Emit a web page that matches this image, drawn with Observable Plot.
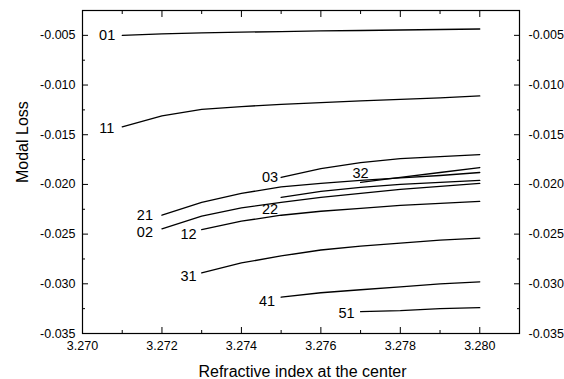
<!DOCTYPE html>
<html><head><meta charset="utf-8">
<script src="https://cdn.jsdelivr.net/npm/d3@7"></script>
<script src="https://cdn.jsdelivr.net/npm/@observablehq/plot@0.6"></script>
<style>body{margin:0;background:#fff}</style>
</head><body><div id="chart"></div>
<script>
// x grid (refractive index at the center); every series ends at 3.280
const xGrid = [3.271, 3.272, 3.273, 3.274, 3.275, 3.276, 3.277, 3.278, 3.279, 3.280];

// modal loss series
const s01 = [-0.0050, -0.00485, -0.00475, -0.00468, -0.00462, -0.00456, -0.00451, -0.00446, -0.00441, -0.00436];
const s11 = [-0.0142, -0.0131, -0.01244, -0.01217, -0.01194, -0.01177, -0.0116, -0.01144, -0.0113, -0.0111];
const s21 = [-0.0231, -0.0218, -0.0209, -0.02025, -0.0199, -0.0196, -0.01935, -0.0191, -0.0188];
const s02 = [-0.02447, -0.0232, -0.02236, -0.0218, -0.0213, -0.0209, -0.0205, -0.0202, -0.0199];
const s12 = [-0.02454, -0.0237, -0.0231, -0.0227, -0.0224, -0.0221, -0.0219, -0.0217];
const s31 = [-0.0289, -0.0279, -0.0272, -0.0266, -0.0262, -0.0259, -0.0256, -0.0254];
const s03 = [-0.0193, -0.0184, -0.0178, -0.0174, -0.0172, -0.0170];
const s22 = [-0.0213, -0.0207, -0.0203, -0.0200, -0.0198, -0.0196];
const s41 = [-0.03135, -0.0309, -0.0306, -0.0303, -0.0300, -0.0298];
const s32 = [-0.0198, -0.0193, -0.0188, -0.0183];
const s51 = [-0.0328, -0.0327, -0.0325, -0.0324];

const modes = ["01", "11", "21", "02", "12", "31", "03", "22", "41", "32", "51"];
const seriesValues = [s01, s11, s21, s02, s12, s31, s03, s22, s41, s32, s51];

// tick values
const xTicks = [3.270, 3.272, 3.274, 3.276, 3.278, 3.280];
const xMinorTicks = [3.271, 3.273, 3.275, 3.277, 3.279];
const yTicks = [-0.035, -0.030, -0.025, -0.020, -0.015, -0.010, -0.005];
const yMinorTicks = [-0.0325, -0.0275, -0.0225, -0.0175, -0.0125, -0.0075];

const xTitle = "Refractive index at the center";
const yTitle = "Modal Loss";

// build table
const rows = [];
modes.forEach((m, i) => {
  const v = seriesValues[i];
  const xs = xGrid.slice(xGrid.length - v.length);
  v.forEach((y, j) => rows.push({mode: m, x: xs[j], y}));
});
const firstPoints = modes.map((m, i) => {
  const v = seriesValues[i];
  return {mode: m, x: xGrid[xGrid.length - v.length], y: v[0]};
});

// label placement (layout, in px relative to each line's first point)
const labelLayout = {
  "01": {dx: -7, dy: 0, anchor: "end"},
  "11": {dx: -8, dy: 1.5, anchor: "end"},
  "21": {dx: -9, dy: 0, anchor: "end"},
  "02": {dx: -9, dy: 4, anchor: "end"},
  "12": {dx: -5, dy: 5, anchor: "end"},
  "31": {dx: -5, dy: 3, anchor: "end"},
  "03": {dx: -3, dy: 0, anchor: "end"},
  "22": {dx: -3, dy: 12, anchor: "end"},
  "41": {dx: -6, dy: 4, anchor: "end"},
  "32": {dx: 0, dy: -9, anchor: "middle"},
  "51": {dx: -6, dy: 1.5, anchor: "end"}
};

const fmt = d => d.toFixed(3);
const blank = () => "";
const tickFont = 12.5;

const labelMarks = firstPoints.map(p => {
  const L = labelLayout[p.mode];
  return Plot.text([p], {x: "x", y: "y", text: "mode", dx: L.dx, dy: L.dy,
    textAnchor: L.anchor, fontSize: 14.5, fill: "black"});
});

const chart = Plot.plot({
  width: 564,
  height: 379,
  marginLeft: 82,
  marginRight: 45,
  marginTop: 10,
  marginBottom: 46,
  style: {fontFamily: "'Liberation Sans', Arial, sans-serif", color: "black", background: "white"},
  x: {domain: [3.270, 3.281]},
  y: {domain: [-0.035, -0.0025]},
  marks: [
    // inward major ticks
    Plot.axisX(xTicks, {anchor: "bottom", tickSize: -6, tickFormat: blank, label: null}),
    Plot.axisX(xTicks, {anchor: "top", tickSize: -6, tickFormat: blank, label: null}),
    Plot.axisY(yTicks, {anchor: "left", tickSize: -6, tickFormat: blank, label: null}),
    Plot.axisY(yTicks, {anchor: "right", tickSize: -6, tickFormat: blank, label: null}),
    // inward minor ticks
    Plot.axisX(xMinorTicks, {anchor: "bottom", tickSize: -3, tickFormat: blank, label: null}),
    Plot.axisX(xMinorTicks, {anchor: "top", tickSize: -3, tickFormat: blank, label: null}),
    Plot.axisY(yMinorTicks, {anchor: "left", tickSize: -3, tickFormat: blank, label: null}),
    Plot.axisY(yMinorTicks, {anchor: "right", tickSize: -3, tickFormat: blank, label: null}),
    // tick labels
    Plot.axisX(xTicks, {anchor: "bottom", tickSize: 0, tickPadding: 8, tickFormat: fmt, label: null, fontSize: tickFont}),
    Plot.axisY(yTicks, {anchor: "left", tickSize: 0, tickPadding: 7, tickFormat: fmt, label: null, fontSize: tickFont}),
    Plot.axisY(yTicks, {anchor: "right", tickSize: 0, tickPadding: 9, tickFormat: fmt, label: null, fontSize: tickFont}),
    Plot.frame({stroke: "black", strokeWidth: 1.2}),
    Plot.line(rows, {x: "x", y: "y", z: "mode", stroke: "black", strokeWidth: 1.3}),
    ...labelMarks,
    Plot.text([xTitle], {text: d => d, frameAnchor: "bottom", lineAnchor: "middle", dy: 38, dx: 1.5, fontSize: 16, fill: "black"}),
    Plot.text([yTitle], {text: d => d, frameAnchor: "left", lineAnchor: "middle", rotate: -90, dx: -59.5, dy: 11, fontSize: 16, fill: "black"})
  ]
});
document.getElementById("chart").appendChild(chart);
</script>
</body></html>
